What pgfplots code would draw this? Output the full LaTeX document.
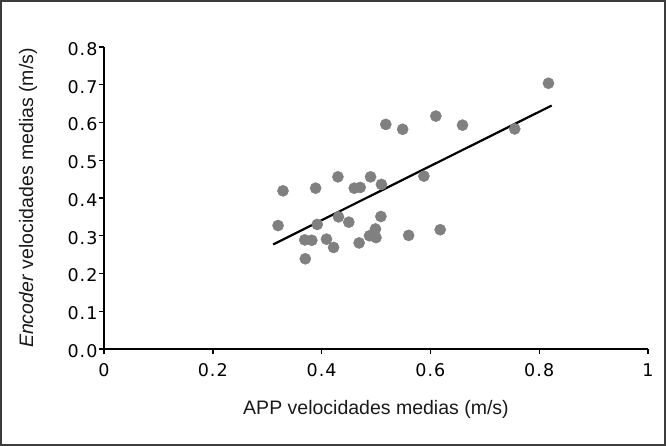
\documentclass[border=0pt]{standalone}
\usepackage{pgfplots}
\pgfplotsset{compat=1.18}
\usepackage{fontspec}
\setmainfont{Liberation Sans}
\newfontfamily\tickfont[LetterSpace=6]{DejaVu Sans}
\definecolor{dotgray}{RGB}{128,128,128}
\definecolor{framegray}{RGB}{60,60,60}
\begin{document}
\begin{tikzpicture}
\begin{axis}[
  at={(0pt,0pt)}, anchor=south west,
  scale only axis, width=544pt, height=302pt,
  xmin=0, xmax=1, ymin=0, ymax=0.8,
  axis lines=left,
  axis line style={line width=1.8pt, -},
  xtick={0,0.2,0.4,0.6,0.8,1},
  xticklabels={0,0.2,0.4,0.6,0.8,1},
  ytick={0,0.1,0.2,0.3,0.4,0.5,0.6,0.7,0.8},
  yticklabels={0.0,0.1,0.2,0.3,0.4,0.5,0.6,0.7,0.8},
  tick align=outside,
  major tick length=5pt,
  tick style={line width=1.4pt, black},
  tick label style={font=\tickfont\fontsize{17.5}{20}\selectfont, text=black},
  xticklabel style={yshift=-6pt},
  yticklabel style={xshift=2pt, yshift=-2pt},
  xlabel={APP velocidades medias (m/s)},
  ylabel={\textit{Encoder} velocidades medias (m/s)},
  label style={font=\fontsize{19.5}{22}\selectfont, text=black!90},
  xlabel style={at={(axis description cs:0.5,0)}, anchor=center, yshift=-60pt},
  ylabel style={at={(axis description cs:0,0.5)}, anchor=center, rotate=0, yshift=76pt},
  clip=false,
]
\addplot[only marks, mark=*, mark size=5.6pt, mark options={fill=dotgray, draw=dotgray}] coordinates {
(0.817,0.704) (0.610,0.617) (0.518,0.595) (0.549,0.582) (0.659,0.593)
(0.755,0.583) (0.588,0.458) (0.430,0.456) (0.490,0.456) (0.460,0.426)
(0.471,0.428) (0.510,0.436) (0.389,0.426) (0.329,0.419) (0.320,0.327)
(0.392,0.330) (0.431,0.350) (0.450,0.336) (0.509,0.351) (0.499,0.318)
(0.488,0.300) (0.500,0.295) (0.369,0.289) (0.382,0.288) (0.409,0.291)
(0.422,0.269) (0.469,0.281) (0.560,0.301) (0.618,0.316) (0.370,0.239)
};
\addplot[black, line width=2.2pt] coordinates {(0.311,0.277) (0.823,0.645)};
\end{axis}
\draw[line width=2pt, color=framegray] (-103pt,-96pt) rectangle (561pt,348pt);
\end{tikzpicture}
\end{document}
